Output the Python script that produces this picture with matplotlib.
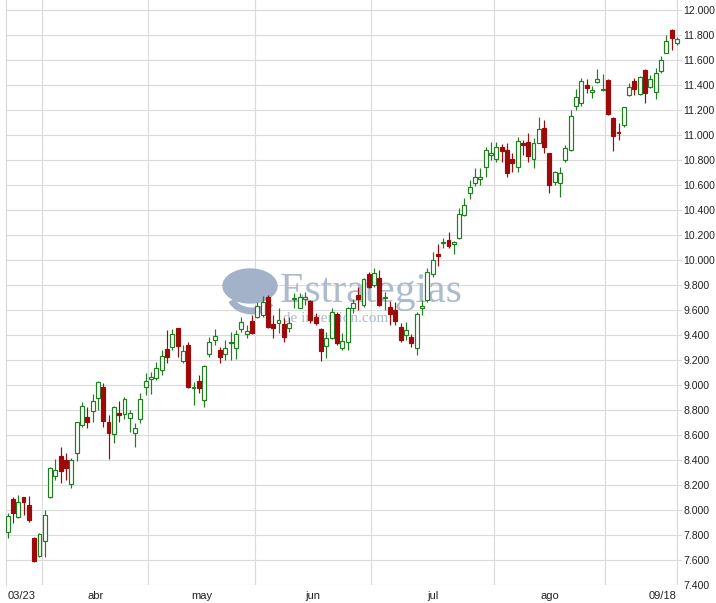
import matplotlib.pyplot as plt
import pandas as pd
from matplotlib.patches import Ellipse, Arc
from matplotlib.ticker import FuncFormatter

# IBEX 35 sessions, 23-mar-2009 .. 18-sep-2009
dates = pd.bdate_range('2009-03-23', '2009-09-18')
dates = dates.drop(pd.to_datetime(['2009-04-10', '2009-04-13', '2009-05-01']))

opens = [7827, 8085, 7947, 8101, 8040, 7779, 7635, 7755, 8107, 8275,
         8432, 8400, 8205, 8453, 8680, 8741, 8792, 8893, 8981, 8701,
         8605, 8773, 8768, 8733, 8613, 8725, 8981, 9045, 9053, 9120,
         9285, 9307, 9453, 9192, 9320, 8979, 9032, 8880, 9248, 9360,
         9280, 9248, 9336, 9293, 9445, 9408, 9515, 9547, 9560, 9707,
         9485, 9499, 9488, 9453, 9688, 9619, 9685, 9672, 9547, 9448,
         9312, 9373, 9565, 9299, 9347, 9613, 9720, 9640, 9888, 9800,
         9853, 9699, 9621, 9600, 9461, 9400, 9387, 9293, 9613, 9680,
         9885, 10048, 10133, 10160, 10125, 10173, 10360, 10533, 10613, 10645,
         10741, 10840, 10805, 10901, 10880, 10805, 10741, 10933, 10947, 10805,
         10939, 11053, 10853, 10627, 10613, 10800, 10880, 11232, 11253, 11400,
         11341, 11421, 11360, 11440, 11133, 11024, 11080, 11320, 11432, 11325,
         11520, 11387, 11341, 11515, 11659, 11840, 11733]
highs = [7979, 8107, 8120, 8107, 8112, 7787, 7813, 8000, 8347, 8405,
         8507, 8453, 8413, 8707, 8867, 8821, 8925, 9032, 9013, 8760,
         8832, 8872, 8907, 8800, 8699, 8939, 9093, 9107, 9187, 9280,
         9440, 9445, 9459, 9320, 9347, 9027, 9080, 9160, 9387, 9445,
         9307, 9360, 9427, 9440, 9547, 9480, 9560, 9667, 9715, 9720,
         9560, 9619, 9533, 9547, 9733, 9739, 9747, 9680, 9573, 9453,
         9427, 9613, 9587, 9413, 9627, 9685, 9781, 9853, 9907, 9933,
         9920, 9747, 9675, 9667, 9493, 9507, 9408, 9587, 9680, 9933,
         10067, 10128, 10173, 10221, 10155, 10413, 10493, 10640, 10733, 10733,
         10907, 10947, 10947, 10928, 10933, 10853, 10987, 10960, 11013, 10973,
         11147, 11120, 10859, 10715, 10747, 10920, 11200, 11365, 11453, 11445,
         11392, 11525, 11488, 11445, 11141, 11093, 11227, 11413, 11453, 11472,
         11525, 11480, 11533, 11632, 11800, 11845, 11787]
lows = [7773, 7893, 7933, 7960, 7907, 7581, 7627, 7627, 8093, 8240,
        8219, 8240, 8173, 8395, 8667, 8659, 8707, 8800, 8667, 8405,
        8539, 8707, 8725, 8627, 8501, 8693, 8920, 8925, 9040, 9080,
        9173, 9280, 9227, 9173, 8973, 8840, 8933, 8821, 9227, 9320,
        9173, 9200, 9200, 9205, 9427, 9373, 9405, 9533, 9547, 9453,
        9373, 9413, 9341, 9427, 9613, 9613, 9640, 9493, 9480, 9192,
        9213, 9368, 9320, 9280, 9280, 9573, 9600, 9627, 9773, 9787,
        9632, 9600, 9480, 9480, 9347, 9360, 9301, 9240, 9560, 9667,
        9867, 9955, 10093, 10093, 10048, 10165, 10352, 10485, 10592, 10600,
        10661, 10800, 10787, 10787, 10667, 10707, 10707, 10840, 10787, 10733,
        10933, 10853, 10533, 10600, 10507, 10787, 10875, 11200, 11232, 11333,
        11293, 11413, 11355, 11160, 10875, 10960, 11067, 11312, 11320, 11320,
        11259, 11373, 11285, 11499, 11653, 11680, 11720]
closes = [7952, 7979, 8067, 8067, 7920, 7595, 7805, 7960, 8339, 8320,
          8315, 8339, 8400, 8701, 8832, 8707, 8872, 9027, 8715, 8613,
          8827, 8763, 8885, 8773, 8653, 8885, 9035, 9067, 9133, 9232,
          9227, 9405, 9312, 9272, 8987, 8987, 8973, 9155, 9341, 9392,
          9221, 9299, 9344, 9405, 9507, 9432, 9419, 9632, 9667, 9461,
          9453, 9520, 9387, 9493, 9699, 9707, 9707, 9520, 9493, 9275,
          9379, 9587, 9333, 9352, 9613, 9659, 9685, 9845, 9781, 9899,
          9640, 9704, 9568, 9515, 9360, 9440, 9339, 9568, 9632, 9901,
          10000, 10035, 10141, 10115, 10147, 10365, 10440, 10587, 10661, 10661,
          10880, 10859, 10901, 10875, 10699, 10773, 10955, 10920, 10832, 10933,
          11045, 10901, 10600, 10707, 10693, 10893, 11155, 11301, 11432, 11373,
          11360, 11445, 11365, 11165, 10995, 11013, 11221, 11387, 11365, 11461,
          11339, 11448, 11493, 11600, 11752, 11773, 11765]

month_names = ['abr', 'may', 'jun', 'jul', 'ago']

green = '#1f7f1f'
red = '#9c0a0a'
grid_col = '#dadada'

fig = plt.figure(figsize=(7.16, 6.03), dpi=100)
ax = fig.add_axes([6 / 716, 18 / 603, 676 / 716, 585 / 603])
ax.set_facecolor('white')

x = list(range(len(dates)))
up = [c >= o for o, c in zip(opens, closes)]
edge = [green if u else red for u in up]
fill = ['white' if u else red for u in up]
bottoms = [min(o, c) for o, c in zip(opens, closes)]
heights = [max(abs(c - o), 3) for o, c in zip(opens, closes)]

ax.vlines(x, lows, highs, colors=edge, linewidth=0.85, zorder=3)
ax.bar(x, heights, width=0.74, bottom=bottoms, color=fill,
       edgecolor=edge, linewidth=0.85, zorder=4)

ax.set_xlim(-0.3, len(dates) - 0.05)
ax.set_ylim(7400, 12080)

# grid
ax.set_axisbelow(True)
ax.set_yticks(range(7400, 12001, 200))
ax.yaxis.set_major_formatter(FuncFormatter(lambda v, p: f"{v / 1000:.3f}"))
ax.grid(axis='y', color=grid_col, linewidth=0.8)
ax.yaxis.tick_right()
ax.tick_params(axis='y', length=0, pad=1, labelsize=7.6, labelcolor='#222222')
for lab in ax.get_yticklabels():
    lab.set_family('Liberation Sans')

months = pd.Series(dates.month)
starts = [i for i in range(1, len(dates)) if months[i] != months[i - 1]]
for s in starts:
    ax.axvline(s - 0.5, color=grid_col, linewidth=0.8, zorder=0.5)
ax.axvline(len(dates) - 1, color=grid_col, linewidth=0.8, zorder=0.5)

bounds = starts + [len(dates)]
centers = [(bounds[k] + bounds[k + 1] - 1) / 2 for k in range(len(month_names))]
ticks = [0] + centers + [len(dates) - 1]
labels = [dates[0].strftime('%m/%d')] + month_names + [dates[-1].strftime('%m/%d')]
ax.set_xticks(ticks)
ax.set_xticklabels(labels)
ax.tick_params(axis='x', length=0, pad=4, labelsize=8, labelcolor='#222222')
xl = ax.get_xticklabels()
for lab in xl:
    lab.set_family('Liberation Sans')
xl[0].set_ha('left')
xl[-1].set_ha('right')

for side in ['top', 'right', 'bottom']:
    ax.spines[side].set_visible(False)
ax.spines['left'].set_color(grid_col)
ax.spines['left'].set_linewidth(0.8)

# watermark
W, H = 716, 603
wm = '#adbbcf'
logo = Ellipse((250 / W, 1 - 286 / H), 54 / W, 34 / H, angle=0,
               transform=fig.transFigure, color='#a3b2c8', zorder=1)
ax.add_patch(logo)
tail = Arc((252 / W, 1 - 294 / H), 44 / W, 34 / H, theta1=200, theta2=330,
           transform=fig.transFigure, color='#a3b2c8', linewidth=5, zorder=1)
ax.add_patch(tail)
ax.text(280 / W, 1 - 302 / H, 'Estrategias', transform=fig.transFigure,
        fontsize=30, family='Liberation Serif', color=wm, va='baseline',
        ha='left', zorder=1)
ax.text(283 / W, 1 - 322 / H, 'de inversion.com', transform=fig.transFigure,
        fontsize=11, family='Liberation Serif', color=wm, va='baseline',
        ha='left', zorder=1)

fig.savefig('out.png', dpi=100)
